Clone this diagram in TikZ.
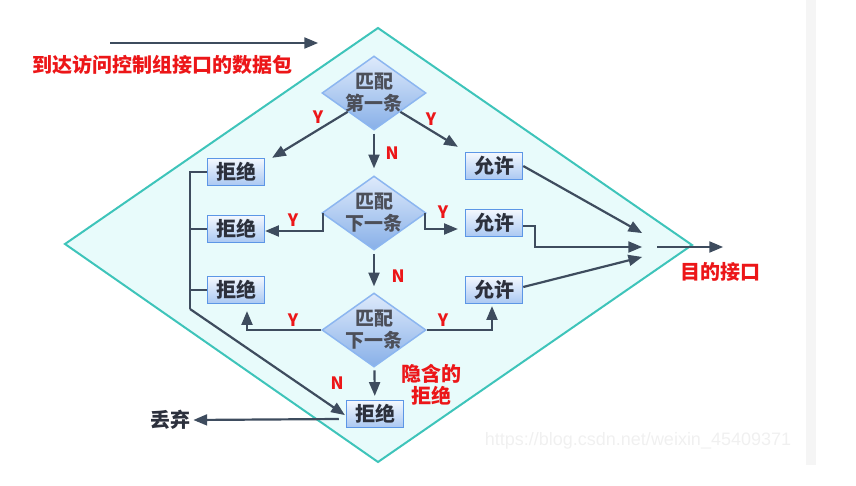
\documentclass[tikz,border=0pt]{standalone}
\usepackage{fontspec}
\newfontfamily\cjk{Noto Sans CJK SC}
\newfontfamily\wmfont{Liberation Sans}
\usetikzlibrary{arrows,shapes}

\definecolor{wiregray}{RGB}{62,76,94}
\definecolor{lblred}{RGB}{236,22,24}
\definecolor{fieldline}{RGB}{62,196,186}
\definecolor{fieldfill}{RGB}{232,251,251}
\definecolor{boxline}{RGB}{92,150,230}
\definecolor{boxtop}{RGB}{244,248,254}
\definecolor{boxbot}{RGB}{170,200,242}
\definecolor{dline}{RGB}{140,182,240}
\definecolor{dtop}{RGB}{222,234,251}
\definecolor{dbot}{RGB}{136,176,232}
\definecolor{inktext}{RGB}{44,48,60}

\begin{document}
\begin{tikzpicture}[x=1pt,y=-1pt,>=triangle 45,
			font=\cjk\bfseries\fontsize{20}{22}\selectfont,
			wire/.style={line width=2.2pt,draw=wiregray},
			flow/.style={->,wire},
			decision/.style={diamond,draw=dline,line width=1.5pt,top color=dtop,bottom color=dbot,minimum width=104pt,minimum height=74pt,inner sep=0pt},
			dlabel/.style={align=center,text=inktext!85,font=\cjk\bfseries\fontsize{19}{22}\selectfont},
			verdict/.style={rectangle,draw=boxline,line width=1.5pt,top color=boxtop,bottom color=boxbot,minimum width=57pt,minimum height=27pt,inner sep=0pt,text=inktext},
			yn/.style={text=lblred,font=\cjk\bfseries\fontsize{17}{19}\selectfont},
			note/.style={text=lblred,align=center}
			]

			\useasboundingbox (0,0) rectangle (856,486);
			\fill[black!4] (806,0) rectangle (816,465);

			\draw[line width=2pt,draw=fieldline,fill=fieldfill] (378,28) -- (692,245) -- (378,462) -- (65,244) -- cycle;

			\node[decision,label={[dlabel]center:匹配\\第一条}] at (374,93) (d1) {};
			\node[decision,label={[dlabel]center:匹配\\下一条}] at (374,213) (d2) {};
			\node[decision,label={[dlabel]center:匹配\\下一条}] at (374,330) (d3) {};

			\node[verdict] at (236,172) (r1) {拒绝};
			\node[verdict] at (236,229) (r2) {拒绝};
			\node[verdict] at (236,290) (r3) {拒绝};
			\node[verdict] at (375,414) (r4) {拒绝};

			\node[verdict] at (494,166) (a1) {允许};
			\node[verdict] at (494,223) (a2) {允许};
			\node[verdict] at (494,290) (a3) {允许};

			% incoming packet
			\coordinate (pin) at (110,43);
			\coordinate (pout) at (318,43);
			\draw[flow] (pin) -- (pout);
			\node[note] at (162,65) (inlbl) {到达访问控制组接口的数据包};

			% first rule
			\draw[flow] (d1.south west) -- ([xshift=7pt]r1.north east);
			\draw[flow] (d1.south east) -- ([xshift=-7pt,yshift=5pt]a1.north west);
			\draw[flow,shorten <=3pt,shorten >=7pt] (d1) -- (d2);
			\node[yn] at (318,117) {Y};
			\node[yn] at (431,119) {Y};
			\node[yn] at (392,153) {N};

			% next rule
			\draw[flow] ([xshift=2pt]d2.west) |- ([yshift=-2pt]r2.east);
			\draw[flow,shorten >=7pt] ([xshift=-2pt]d2.east) |- ([yshift=-6pt]a2.west);
			\draw[flow,shorten <=3pt,shorten >=6pt] (d2) -- (d3);
			\node[yn] at (293,220) {Y};
			\node[yn] at (443,212) {Y};
			\node[yn] at (398,276) {N};

			% last rule
			\draw[flow,shorten >=7pt] (d3.west) -| ([xshift=11pt]r3.south);
			\draw[flow,shorten >=2pt] (d3.east) -| ([xshift=-2pt]a3.south);
			\draw[flow,shorten <=3pt,shorten >=4pt] (d3) -- (r4);
			\node[yn] at (293,320) {Y};
			\node[yn] at (443,320) {Y};
			\node[yn] at (337,383) {N};
			\node[note] at (431,385) {隐含的\\拒绝};

			% denied packets
			\coordinate (bt) at (190,172);
			\coordinate (bb) at (190,309);
			\draw[wire] (r1.west) -- (bt) -- (bb);
			\foreach \r in {r2,r3} {
				\draw[wire] (\r.west) -- (\r.west -| bt);
			}
			\draw[flow] (bb) -- ([xshift=-1pt,yshift=-1pt]r4.west);
			\node[text=inktext] at (170,420) (drop) {丢弃};
			\draw[flow] ([xshift=-7pt,yshift=-5pt]r4.west) -- (drop.east);

			% permitted packets
			\coordinate (h1) at (642,233);
			\coordinate (h2) at (642,247);
			\coordinate (h3) at (642,257);
			\coordinate (hout) at (657,247);
			\coordinate (dest) at (723,247);
			\draw[flow] (a1.east) -- (h1);
			\draw[flow] ([yshift=-3pt]a2.east) -- ++(12,0) |- (h2);
			\draw[flow] ([yshift=3pt]a3.east) -- (h3);
			\draw[flow] (hout) -- (dest);
			\node[note] at (720,272) (destlbl) {目的接口};

			\node[text=black!6,font=\wmfont\fontsize{18}{20}\selectfont] at (638,441) {https://blog.csdn.net/weixin\_45409371};
		\end{tikzpicture}
\end{document}
